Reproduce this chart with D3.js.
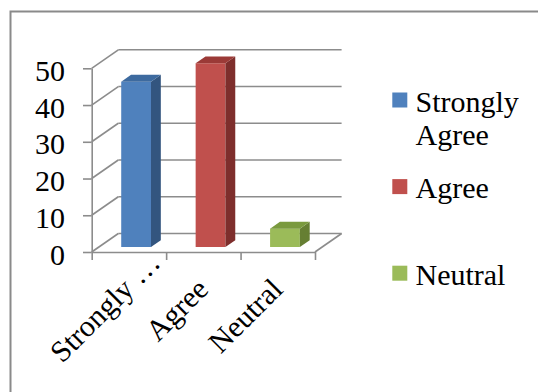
<!DOCTYPE html>
<html>
<head>
<meta charset="utf-8">
<script src="https://cdn.jsdelivr.net/npm/d3@7"></script>
<style>
  body { margin: 0; background: #fff; }
</style>
</head>
<body>
<div id="chart"></div>
<script>
// chart data
const categories = ["Strongly Agree", "Agree", "Neutral"];
const tickLabels = ["Strongly…", "Agree", "Neutral"];
const values = [45, 50, 5];
const yTicks = [0, 10, 20, 30, 40, 50];

const width = 538, height = 392;
const serif = "Liberation Serif";
// serif glyphs are set at 22px and scaled up to ~30px
const fs = 22, k = 30 / 22;
const fills = [
  {front: "#4f81bd", top: "#3d6a9f", side: "#33557f"},
  {front: "#c0504d", top: "#9b3a37", side: "#7e2e2c"},
  {front: "#9bbb59", top: "#7a9a3e", side: "#667f33"}
];

// depth of the 3d box (offset of back wall from the front plane)
const DX = 26.6, DY = 18.5;
const left = 91.7, right = 315;

const svg = d3.select("#chart")
  .append("svg")
  .attr("width", width)
  .attr("height", height);

// outer frame
svg.append("rect")
  .attr("x", 10.5).attr("y", 11.5)
  .attr("width", 700).attr("height", 600)
  .attr("fill", "none")
  .attr("stroke", "#8a8a8a")
  .attr("stroke-width", 2);

const x = d3.scaleBand(categories, [left, right])
  .paddingInner(0.6)
  .paddingOuter(0.3);

const y = d3.scaleLinear([0, 50], [252, 68.3]);

const proj = (px, v, z) => [px + z * DX, y(v) - z * DY];

const grid = svg.append("g")
  .attr("stroke", "#8c8c8c")
  .attr("stroke-width", 1.6)
  .attr("fill", "none");

// back wall gridlines
grid.selectAll(".back")
  .data(yTicks)
  .join("line")
  .attr("x1", d => proj(left, d, 1)[0])
  .attr("y1", d => proj(left, d, 1)[1])
  .attr("x2", d => proj(right, d, 1)[0])
  .attr("y2", d => proj(right, d, 1)[1]);

// side wall gridlines
grid.selectAll(".side")
  .data(yTicks)
  .join("line")
  .attr("x1", d => proj(left, d, 0)[0])
  .attr("y1", d => proj(left, d, 0)[1])
  .attr("x2", d => proj(left, d, 1)[0])
  .attr("y2", d => proj(left, d, 1)[1]);

// floor right edge
grid.append("line")
  .attr("x1", proj(right, 0, 0)[0]).attr("y1", proj(right, 0, 0)[1])
  .attr("x2", proj(right, 0, 1)[0]).attr("y2", proj(right, 0, 1)[1]);

// bars
const z0 = 0.27, z1 = 0.64;
const bars = svg.append("g")
  .selectAll("g")
  .data(values)
  .join("g");

const poly = pts => "M" + pts.map(p => p.join(",")).join("L") + "Z";

bars.append("path")
  .attr("fill", (d, i) => fills[i].front)
  .attr("d", (d, i) => {
    const a = x(categories[i]), b = a + x.bandwidth();
    return poly([proj(a, 0, z0), proj(a, d, z0), proj(b, d, z0), proj(b, 0, z0)]);
  });

bars.append("path")
  .attr("fill", (d, i) => fills[i].side)
  .attr("d", (d, i) => {
    const b = x(categories[i]) + x.bandwidth();
    return poly([proj(b, 0, z0), proj(b, d, z0), proj(b, d, z1), proj(b, 0, z1)]);
  });

bars.append("path")
  .attr("fill", (d, i) => fills[i].top)
  .attr("d", (d, i) => {
    const a = x(categories[i]), b = a + x.bandwidth();
    return poly([proj(a, d, z0), proj(b, d, z0), proj(b, d, z1), proj(a, d, z1)]);
  });

// y axis
const yAxis = svg.append("g")
  .attr("transform", `translate(${left},0)`)
  .style("color", "#8c8c8c")
  .call(d3.axisLeft(y).tickValues(yTicks).tickSize(8.7).tickSizeOuter(0).tickPadding(18));
yAxis.selectAll("line, path").attr("stroke-width", 1.6);
yAxis.selectAll("text")
  .attr("x", -26.7 / k)
  .attr("dy", "0.4em")
  .attr("transform", `scale(${k})`)
  .attr("font-family", serif)
  .attr("font-size", fs)
  .attr("fill", "#000");

// x axis (ticks at category boundaries)
const xb = d3.scaleLinear([0, categories.length], [left, right]);
const xAxis = svg.append("g")
  .attr("transform", `translate(0,${y(0)})`)
  .style("color", "#8c8c8c")
  .call(d3.axisBottom(xb).tickValues(d3.range(categories.length + 1)).tickSize(8).tickSizeOuter(0).tickFormat(""));
xAxis.selectAll("line, path").attr("stroke-width", 1.6);

// rotated category labels
const labels = svg.append("g")
  .selectAll("g")
  .data(tickLabels)
  .join("g")
  .attr("transform", (d, i) => `translate(${x(categories[i]) + x.bandwidth() / 2 + 6.5},291) rotate(-45) scale(${k})`);

labels.append("text")
  .attr("text-anchor", "end")
  .attr("font-family", serif)
  .attr("font-size", fs)
  .text(d => d.replace("…", ""));

labels.filter(d => d.endsWith("…"))
  .append("text")
  .attr("text-anchor", "start")
  .attr("font-family", serif)
  .attr("font-size", fs)
  .text("\u00a0…");

// legend
const legendLines = [["Strongly", "Agree"], ["Agree"], ["Neutral"]];
const legend = svg.selectAll(".legend")
  .data(legendLines)
  .join("g")
  .attr("class", "legend")
  .attr("transform", (d, i) => `translate(392.3,${92.5 + i * 86.6})`);

legend.append("rect")
  .attr("width", 15).attr("height", 15)
  .attr("fill", (d, i) => fills[i].front);

legend.append("text")
  .attr("transform", `scale(${k})`)
  .attr("x", 23.2 / k)
  .attr("y", 19 / k)
  .attr("font-family", serif)
  .attr("font-size", fs)
  .selectAll("tspan")
  .data(d => d)
  .join("tspan")
  .attr("x", 23.2 / k)
  .attr("dy", (d, j) => j ? 33.5 / k : 0)
  .text(d => d);
</script>
</body>
</html>
